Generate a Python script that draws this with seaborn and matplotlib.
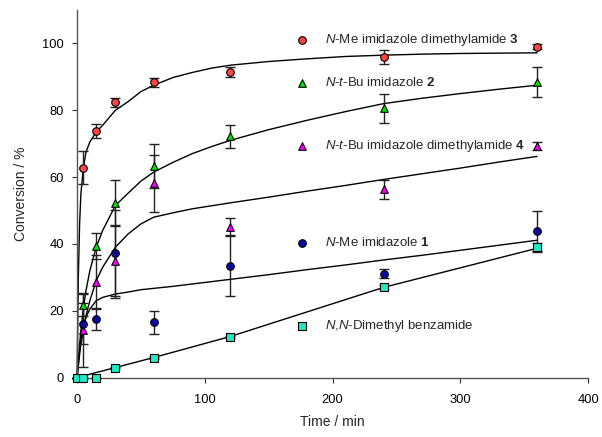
import matplotlib
matplotlib.use("Agg")
import pandas as pd
import seaborn as sns
import matplotlib.pyplot as plt

# sampling times (min)
times = [0, 5, 15, 30, 60, 120, 240, 360]

# conversion (%) and error bars
me_amide3 = [0, 62.8, 73.8, 82.4, 88.4, 91.5, 95.9, 99.0]
me_amide3_err = [0, 5.0, 2.1, 1.4, 1.4, 1.4, 2.1, 0.7]
tbu2 = [0, 21.8, 39.3, 52.2, 63.3, 72.2, 80.6, 88.5]
tbu2_err = [0, 3.4, 3.9, 6.8, 6.7, 3.5, 4.3, 4.4]
tbu_amide4 = [0, 14.1, 28.6, 34.8, 58.1, 45.2, 56.3, 69.4]
tbu_amide4_err = [0, 11.0, 8.2, 11.0, 8.4, 2.5, 2.9, 1.2]
me1 = [0, 16.1, 17.5, 37.2, 16.5, 33.5, 31.1, 43.8]
me1_err = [0, 6.1, 3.3, 12.9, 3.4, 9.0, 1.3, 6.1]
dmba = [0, 0, 0, 3.0, 5.8, 12.1, 27.1, 39.1]
dmba_err = [0, 0, 0, 0.3, 0.3, 0.4, 0.5, 1.2]

# fitted curves
fit_t = [0, 1, 2, 3, 5, 7, 10, 15, 20, 30, 40, 50, 60, 75, 90, 105, 120,
         150, 180, 210, 240, 270, 300, 330, 360]
fit_me_amide3 = [0, 30, 46, 55, 63, 67.5, 70.5, 73.5, 75.5, 80, 82.6, 85.6, 87.5, 89.8,
                 91.3, 92.6, 93.5, 94.6, 95.4, 96.1, 96.5, 96.8, 97.0, 97.1, 97.2]
fit_tbu2 = [0, 5, 10, 14, 21, 26, 32, 39, 44, 51.5, 55.2, 58.8, 61.5, 64.4,
            67, 69.1, 71, 74.2, 77, 79.6, 82, 83.6, 85, 86.3, 87.5]
fit_tbu_amide4 = [0, 3.5, 7, 10, 14.5, 18.5, 23, 29, 33, 39, 43, 46, 48, 49.3,
                  50.5, 51.4, 52.3, 54, 55.8, 57.5, 59.3, 61, 62.7, 64.5, 66.2]
fit_me1 = [0, 4, 8, 11, 15.5, 18, 20.5, 23, 24, 25, 25.6, 26.3, 26.7, 27.3,
           28, 28.7, 29.4, 30.8, 32.3, 33.7, 35.2, 36.6, 38.1, 39.6, 41.1]
fit_dmba_t = [0, 30, 60, 120, 240, 360]
fit_dmba = [0, 3.0, 6.0, 12.3, 27.0, 38.7]

labels = [
    "$N$-Me imidazole dimethylamide $\\mathbf{3}$",
    "$N$-$t$-Bu imidazole $\\mathbf{2}$",
    "$N$-$t$-Bu imidazole dimethylamide $\\mathbf{4}$",
    "$N$-Me imidazole $\\mathbf{1}$",
    "$N$,$N$-Dimethyl benzamide",
]
colors = ["#ff4444", "#00e600", "#ff00ff", "#0a0aa0", "#22e8c4"]
markers = ["o", "^", "^", "o", "s"]
key_y = [101, 88.3, 69.3, 40.3, 15.3]

series = [
    (me_amide3, me_amide3_err, fit_t, fit_me_amide3),
    (tbu2, tbu2_err, fit_t, fit_tbu2),
    (tbu_amide4, tbu_amide4_err, fit_t, fit_tbu_amide4),
    (me1, me1_err, fit_t, fit_me1),
    (dmba, dmba_err, fit_dmba_t, fit_dmba),
]

sns.set_style("ticks")
plt.rcParams["font.family"] = ["Liberation Sans", "DejaVu Sans"]
plt.rcParams["mathtext.fontset"] = "custom"
plt.rcParams["mathtext.rm"] = "Liberation Sans"
plt.rcParams["mathtext.it"] = "Liberation Sans:italic"
plt.rcParams["mathtext.bf"] = "Liberation Sans:bold"

fig, ax = plt.subplots(figsize=(6.02, 4.37), dpi=100)
fig.subplots_adjust(left=0.128, right=0.977, bottom=0.136, top=0.977)

for i, (vals, errs, ft, fv) in enumerate(series):
    sns.lineplot(x=ft, y=fv, ax=ax, color="black", lw=1.0, zorder=2, clip_on=False)
    ax.errorbar(times, vals, yerr=errs, fmt="none", ecolor="#222222",
                elinewidth=1.0, capsize=3.6, capthick=1.0, zorder=3, clip_on=False)
    df = pd.DataFrame({"t": times, "v": vals})
    sns.scatterplot(data=df, x="t", y="v", ax=ax, color=colors[i], marker=markers[i],
                    s=30, edgecolor="black", linewidth=0.8, zorder=4, clip_on=False)
    # legend keys
    ax.scatter([176], [key_y[i]], color=colors[i], marker=markers[i], s=30,
               edgecolor="black", linewidth=0.8, zorder=4)
    ax.text(194, key_y[i], labels[i], fontsize=9.5, va="center", ha="left")

ax.set_xlim(0, 400)
ax.set_ylim(0, 110)
ax.set_xticks([0, 100, 200, 300, 400])
ax.set_yticks([0, 20, 40, 60, 80, 100])
ax.tick_params(direction="out", length=3.6, width=0.8, labelsize=9.3, colors="#333333",
               labelcolor="black")
ax.tick_params(axis="x", pad=8)
ax.tick_params(axis="y", pad=6)
for s in ["top", "right"]:
    ax.spines[s].set_visible(False)
for s in ["left", "bottom"]:
    ax.spines[s].set_color("#555555")
    ax.spines[s].set_linewidth(1.0)
ax.set_xlabel("Time / min", fontsize=10, labelpad=7)
ax.set_ylabel("Conversion / %", fontsize=10, labelpad=10)

fig.savefig("out.png", dpi=100)
